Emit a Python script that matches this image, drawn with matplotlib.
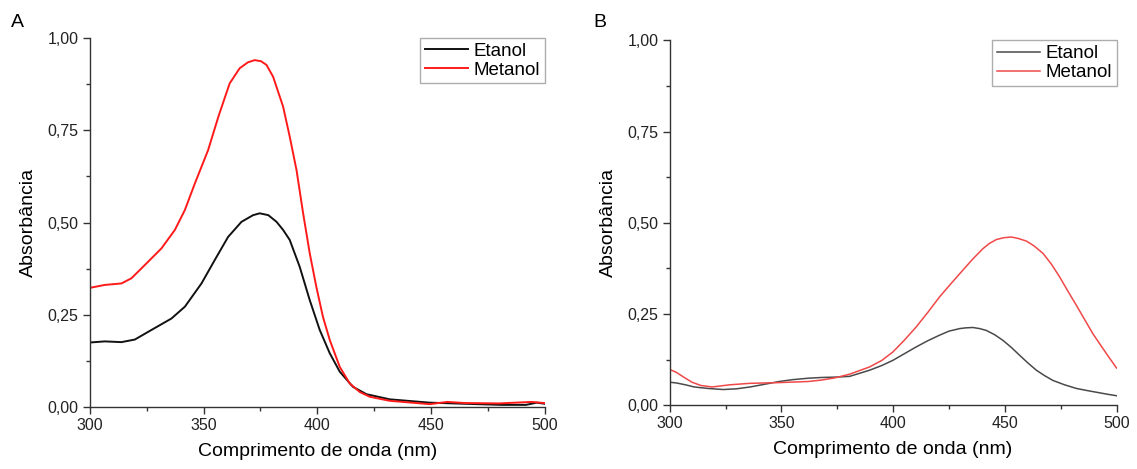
import matplotlib
matplotlib.use("Agg")
import matplotlib.pyplot as plt
from matplotlib.ticker import MultipleLocator, FuncFormatter

plt.rcParams["font.family"] = ["Liberation Sans", "DejaVu Sans"]

# Espectros UV-Vis, painel A
A_ETANOL_NM = [300, 306.6, 313.9, 319.8, 327.1, 335.9, 341.8, 349.1, 354.9, 360.8, 366.7,
               371.8, 374.7, 378.5, 382.1, 385, 387.9, 392.3, 396.7, 401.1, 405.5, 409.9,
               415.7, 421.6, 431.9, 449.5, 465, 480.8, 491.8, 496.5, 500]
A_ETANOL = [0.175, 0.178, 0.176, 0.183, 0.209, 0.240, 0.272, 0.335, 0.398, 0.461, 0.502,
            0.520, 0.525, 0.520, 0.502, 0.480, 0.453, 0.380, 0.290, 0.209, 0.146, 0.096,
            0.055, 0.035, 0.021, 0.012, 0.009, 0.006, 0.006, 0.012, 0.009]

A_METANOL_NM = [300, 306.6, 313.9, 318.3, 324.2, 331.5, 337.4, 341.8, 346.2, 352, 356.7,
                361.5, 365.9, 369.5, 372.5, 375.3, 377.7, 380.6, 385, 387.9, 390.9, 393.8,
                396.7, 399.6, 402.5, 405.5, 409.9, 414.3, 418.7, 423.1, 431.9, 449.5, 457.2,
                465, 480, 494.3, 500]
A_METANOL = [0.323, 0.331, 0.335, 0.349, 0.385, 0.430, 0.480, 0.534, 0.606, 0.696, 0.790,
             0.877, 0.918, 0.934, 0.940, 0.937, 0.927, 0.895, 0.814, 0.733, 0.642, 0.525,
             0.417, 0.326, 0.245, 0.182, 0.109, 0.064, 0.041, 0.028, 0.017, 0.008, 0.014,
             0.011, 0.010, 0.014, 0.011]

# Espectros UV-Vis, painel B
B_ETANOL_NM = [300, 303, 307, 311, 317, 324, 330, 336, 343, 349, 355, 362, 368, 374, 380.5,
               389.5, 395, 399.9, 405, 410.4, 415.6, 420.8, 425, 429.8, 432.5, 435.7, 438.7,
               441.7, 445.5, 449.1, 452.8, 456.6, 460.3, 464.1, 467.8, 471.5, 476.7, 482,
               487, 492.4, 496, 500]
B_ETANOL = [0.063, 0.061, 0.056, 0.050, 0.046, 0.043, 0.045, 0.050, 0.058, 0.065, 0.070,
            0.074, 0.076, 0.077, 0.079, 0.096, 0.109, 0.123, 0.141, 0.160, 0.177, 0.192,
            0.203, 0.210, 0.212, 0.213, 0.210, 0.205, 0.193, 0.178, 0.159, 0.137, 0.116,
            0.096, 0.081, 0.068, 0.056, 0.046, 0.040, 0.034, 0.030, 0.026]

B_METANOL_NM = [300, 303, 306, 310, 314, 319, 327, 336, 349, 362, 368, 374, 380.5, 389.5,
                395, 399.9, 405, 410.4, 415.6, 420.8, 426, 431.2, 435.7, 440.2, 443, 446.2,
                449.5, 452.9, 456, 459.6, 463, 467.1, 470.8, 474.5, 478, 482, 485.7, 489.4,
                492.5, 495.4, 500]
B_METANOL = [0.098, 0.090, 0.078, 0.063, 0.054, 0.050, 0.056, 0.060, 0.062, 0.065, 0.069,
             0.075, 0.085, 0.105, 0.123, 0.146, 0.178, 0.215, 0.255, 0.297, 0.334, 0.370,
             0.401, 0.429, 0.443, 0.454, 0.459, 0.461, 0.457, 0.450, 0.437, 0.416, 0.387,
             0.352, 0.315, 0.274, 0.235, 0.196, 0.168, 0.142, 0.102]

SPINE = "#333333"


def style_axes(ax):
    ax.set_xlim(300, 500)
    ax.set_ylim(0, 1.0)
    ax.spines["top"].set_visible(False)
    ax.spines["right"].set_visible(False)
    for side in ("left", "bottom"):
        ax.spines[side].set_color(SPINE)
        ax.spines[side].set_linewidth(1.0)
    ax.xaxis.set_major_locator(MultipleLocator(50))
    ax.xaxis.set_minor_locator(MultipleLocator(25))
    ax.yaxis.set_major_locator(MultipleLocator(0.25))
    ax.yaxis.set_minor_locator(MultipleLocator(0.125))
    ax.yaxis.set_major_formatter(FuncFormatter(lambda v, p: f"{v:.2f}".replace(".", ",")))
    ax.tick_params(which="major", direction="out", length=5, width=1.0, color=SPINE,
                   labelsize=11.5, labelcolor="#222222", pad=3)
    ax.tick_params(which="minor", direction="out", length=3, width=1.0, color=SPINE)
    ax.set_xlabel("Comprimento de onda (nm)", fontsize=14, labelpad=7)
    ax.set_ylabel("Absorbância", fontsize=14, labelpad=8)
    leg = ax.legend(loc="upper right", fontsize=13.5, frameon=True, fancybox=False,
                    borderpad=0.25, handlelength=2.3, handletextpad=0.3,
                    labelspacing=0.1, borderaxespad=0.0)
    leg.get_frame().set_edgecolor("#999999")
    leg.get_frame().set_linewidth(1.0)


fig = plt.figure(figsize=(11.37, 4.69), dpi=100)
ax_a = fig.add_axes([0.079, 0.132, 0.400, 0.787])
ax_b = fig.add_axes([0.589, 0.136, 0.393, 0.778])

ax_a.plot(A_ETANOL_NM, A_ETANOL, color="#111111", lw=1.4, label="Etanol")
ax_a.plot(A_METANOL_NM, A_METANOL, color="#ff1a1a", lw=1.4, label="Metanol")
style_axes(ax_a)

ax_b.plot(B_ETANOL_NM, B_ETANOL, color="#4a4a4a", lw=1.1, label="Etanol")
ax_b.plot(B_METANOL_NM, B_METANOL, color="#f04848", lw=1.1, label="Metanol")
style_axes(ax_b)

fig.text(0.010, 0.942, "A", fontsize=14)
fig.text(0.522, 0.942, "B", fontsize=14)

fig.savefig("out.png", dpi=100)
